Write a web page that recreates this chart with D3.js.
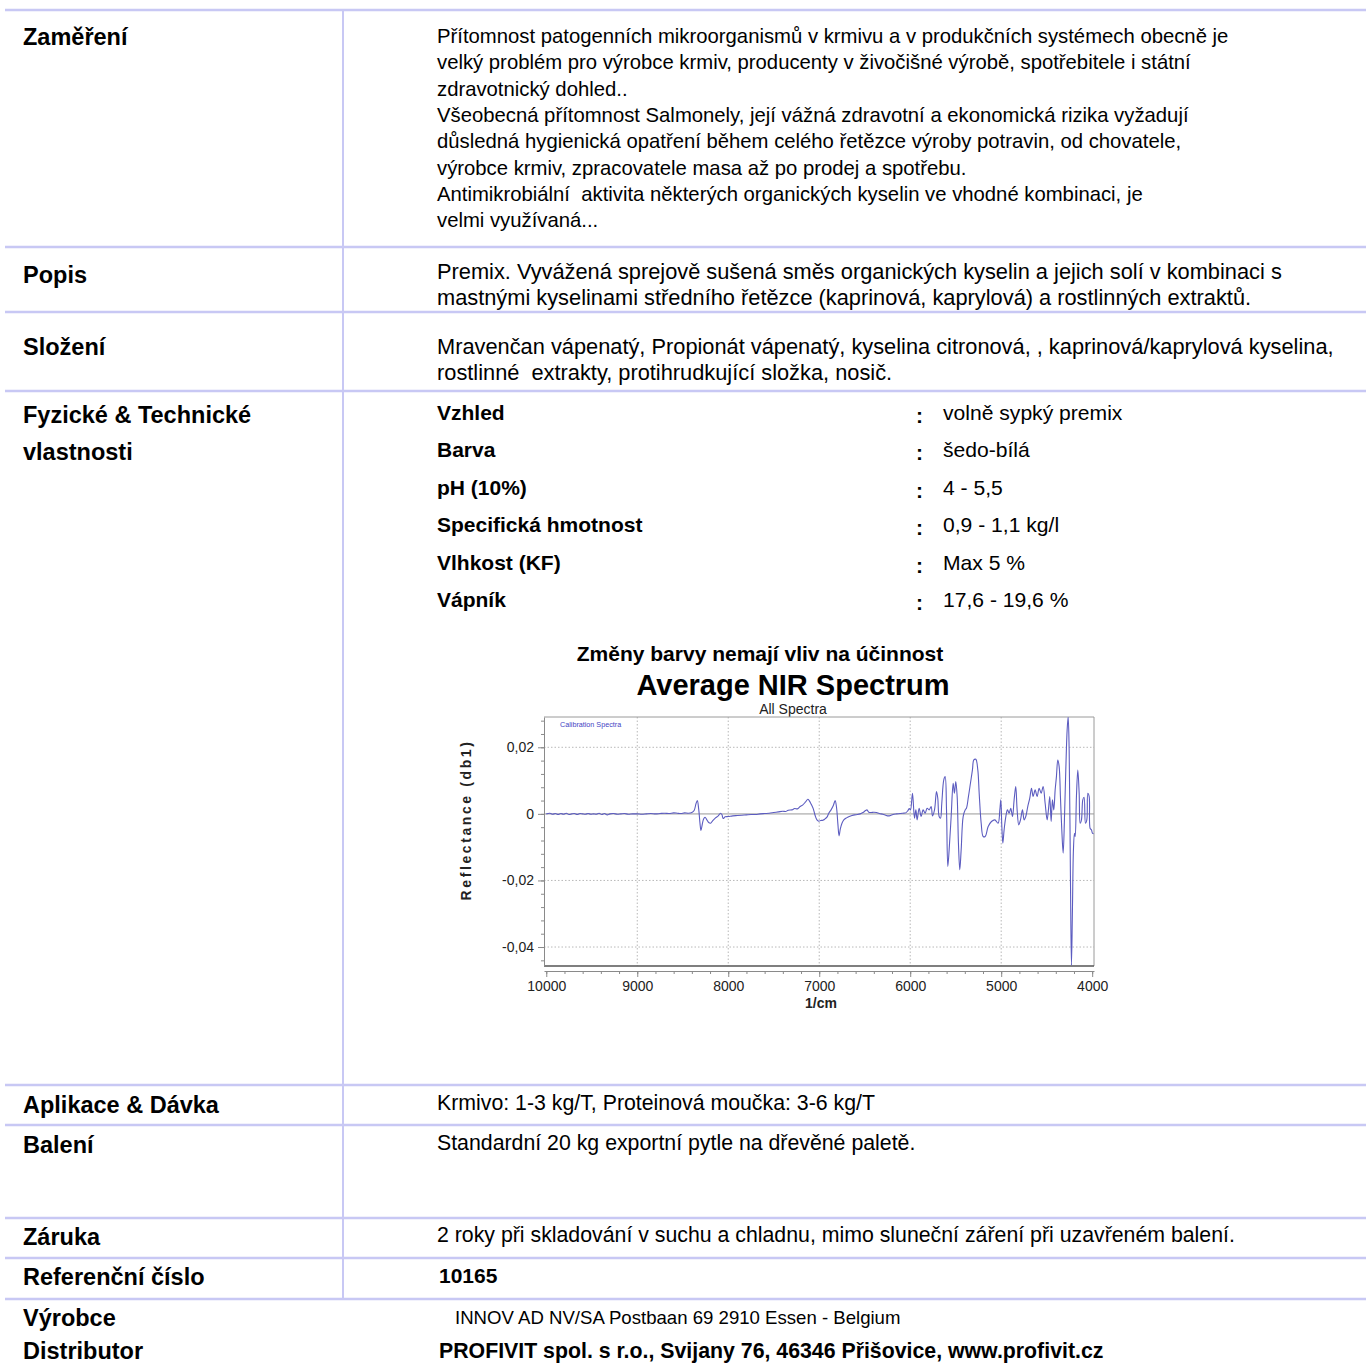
<!DOCTYPE html>
<html><head><meta charset="utf-8">
<script src="https://cdn.jsdelivr.net/npm/d3@7"></script>
<style>
body{margin:0;background:#fff}
svg{display:block}
text{font-family:"Liberation Sans", Arial, Helvetica, sans-serif; white-space:pre}
</style>
</head><body>
<svg id="page" width="1366" height="1363"></svg>
<script>
// ---------- DATA ----------
const rowLabels = ["Zaměření","Popis","Složení","Fyzické & Technické","vlastnosti",
  "Aplikace & Dávka","Balení","Záruka","Referenční číslo","Výrobce","Distributor"];
const zamereniLines = [
  "Přítomnost patogenních mikroorganismů v krmivu a v produkčních systémech obecně je",
  "velký problém pro výrobce krmiv, producenty v živočišné výrobě, spotřebitele i státní",
  "zdravotnický dohled..",
  "Všeobecná přítomnost Salmonely, její vážná zdravotní a ekonomická rizika vyžadují",
  "důsledná hygienická opatření během celého řetězce výroby potravin, od chovatele,",
  "výrobce krmiv, zpracovatele masa až po prodej a spotřebu.",
  "Antimikrobiální  aktivita některých organických kyselin ve vhodné kombinaci, je",
  "velmi využívaná..."
];
const popisLines = [
  "Premix. Vyvážená sprejově sušená směs organických kyselin a jejich solí v kombinaci s",
  "mastnými kyselinami středního řetězce (kaprinová, kaprylová) a rostlinných extraktů."
];
const slozeniLines = [
  "Mravenčan vápenatý, Propionát vápenatý, kyselina citronová, , kaprinová/kaprylová kyselina,",
  "rostlinné  extrakty, protihrudkující složka, nosič."
];
const propNames = ["Vzhled","Barva","pH (10%)","Specifická hmotnost","Vlhkost (KF)","Vápník"];
const propValues = ["volně sypký premix","šedo-bílá","4 - 5,5","0,9 - 1,1 kg/l","Max 5 %","17,6 - 19,6 %"];
const aplikaceText = "Krmivo: 1-3 kg/T, Proteinová moučka: 3-6 kg/T";
const baleniText = "Standardní 20 kg exportní pytle na dřevěné paletě.";
const zarukaText = "2 roky při skladování v suchu a chladnu, mimo sluneční záření při uzavřeném balení.";
const refNumber = "10165";
const vyrobceText = "INNOV AD NV/SA Postbaan 69 2910 Essen - Belgium";
const distributorText = "PROFIVIT spol. s r.o., Svijany 76, 46346 Přišovice, www.profivit.cz";

const chartNote = "Změny barvy nemají vliv na účinnost";
const chartTitle = "Average NIR Spectrum";
const chartSubtitle = "All Spectra";
const legendLabel = "Calibration Spectra";
const yAxisTitle = "Reflectance (db1)";
const xAxisTitle = "1/cm";
const xTicks = [10000, 9000, 8000, 7000, 6000, 5000, 4000];
const yTicks = [0.02, 0, -0.02, -0.04];

const wavenumbers = [
 10000,9960,9930,9900,9870,9840,9810,9780,9750,9720,9690,9660,9630,9600,9570,9540,9510,9480,9450,9420,
 9390,9360,9330,9300,9260,9220,9180,9140,9100,9050,9000,8950,8900,8850,8800,8750,8700,8650,8600,8560,
 8520,8480,8440,8400,8375,8355,8340,8325,8310,8300,8288,8272,8255,8235,8215,8195,8170,8140,8110,8085,
 8070,8055,8035,8000,7950,7900,7850,7800,7750,7700,7650,7600,7550,7500,7450,7400,7370,7340,7300,7270,
 7240,7210,7180,7150,7125,7110,7090,7065,7045,7025,7005,6985,6960,6940,6915,6895,6870,6845,6825,6810,
 6795,6782,6768,6750,6730,6700,6670,6640,6610,6580,6550,6520,6490,6475,6455,6430,6400,6370,6340,6300,
 6270,6240,6210,6180,6150,6110,6080,6050,6025,6010,5997,5975,5953,5938,5924,5902,5880,5858,5836,5814,
 5792,5770,5755,5733,5711,5697,5682,5667,5653,5631,5616,5601,5587,5572,5550,5528,5514,5499,5484,5470,
 5455,5440,5418,5396,5382,5360,5338,5316,5301,5279,5257,5242,5220,5198,5176,5143,5107,5070,5034,5015,
 5004,4993,4982,4968,4949,4931,4913,4895,4876,4858,4840,4825,4807,4788,4766,4748,4730,4708,4686,4667,
 4649,4627,4605,4583,4561,4539,4517,4495,4481,4466,4451,4437,4422,4407,4393,4378,4363,4349,4334,4319,
 4305,4290,4275,4264,4253,4239,4228,4217,4206,4195,4187,4173,4158,4143,4132,4118,4103,4089,4074,4059,
 4048,4033,4023,4008,3997,3985
];
const reflectance = [
 0.0000,0.0002,-0.0001,0.0001,-0.0002,0.0001,-0.0001,0.0002,-0.0002,0.0000,0.0001,-0.0002,0.0001,0.0000,-0.0001,0.0001,-0.0001,0.0000,-0.0001,0.0002,
 -0.0002,0.0001,-0.0003,0.0000,0.0001,-0.0001,0.0000,0.0001,-0.0001,0.0000,0.0000,-0.0001,0.0000,0.0001,0.0000,0.0001,0.0002,0.0001,0.0003,0.0002,
 0.0001,0.0003,0.0002,0.0004,0.0010,0.0030,0.0040,0.0015,-0.0030,-0.0050,-0.0035,-0.0016,-0.0010,-0.0018,-0.0026,-0.0028,-0.0020,-0.0012,-0.0006,0.0002,
 -0.0002,-0.0014,-0.0009,-0.0008,-0.0006,-0.0005,-0.0004,-0.0003,-0.0002,-0.0002,0.0000,0.0001,0.0002,0.0004,0.0006,0.0008,0.0007,0.0011,0.0012,0.0016,
 0.0015,0.0022,0.0027,0.0036,0.0044,0.0040,0.0030,0.0015,-0.0005,-0.0018,-0.0022,-0.0020,-0.0019,-0.0016,-0.0010,0.0002,0.0012,0.0025,0.0040,0.0020,
 -0.0030,-0.0066,-0.0045,-0.0028,-0.0018,-0.0012,-0.0008,-0.0005,-0.0003,-0.0002,0.0000,0.0004,0.0010,0.0012,0.0005,0.0004,0.0005,0.0004,0.0001,-0.0001,
 -0.0004,-0.0006,-0.0004,-0.0001,0.0000,0.0001,0.0002,0.0003,0.0010,0.0016,0.0012,0.0062,-0.0013,0.0012,-0.0018,0.0017,-0.0008,0.0012,0.0002,0.0017,
 0.0012,0.0022,-0.0006,0.0012,0.0067,0.0047,-0.0008,-0.0013,0.0032,0.0102,0.0112,0.0012,-0.0158,-0.0108,-0.0008,0.0092,0.0062,0.0097,0.0052,-0.0088,
 -0.0168,-0.0108,-0.0008,0.0012,0.0017,0.0052,0.0092,0.0132,0.0162,0.0164,0.0132,0.0062,-0.0028,-0.0068,-0.0068,-0.0038,-0.0023,-0.0018,-0.0028,0.0012,
 0.0042,-0.0038,-0.0088,-0.0048,-0.0008,0.0012,0.0002,0.0017,-0.0008,0.0042,0.0082,0.0012,-0.0033,-0.0018,0.0012,-0.0018,-0.0008,0.0022,0.0047,0.0077,
 0.0052,0.0072,0.0052,0.0077,0.0062,0.0082,0.0032,-0.0018,0.0012,0.0052,-0.0023,0.0042,0.0012,0.0072,0.0112,0.0162,0.0142,0.0052,-0.0048,-0.0118,
 -0.0018,0.0132,0.0253,0.0291,0.0192,-0.0188,-0.0455,-0.0288,-0.0108,-0.0058,-0.0068,0.0052,0.0132,0.0062,-0.0028,-0.0018,0.0042,0.0050,-0.0028,-0.0018,
 0.0062,0.0052,-0.0043,-0.0048,-0.0058,-0.0060
];

// ---------- LAYOUT ----------
const svg = d3.select("#page");
svg.append("rect").attr("width",1366).attr("height",1363).attr("fill","#fff");

const lineColor = "#c8c8f4";
const hLineY = [10, 247, 312, 391, 1085, 1125, 1218, 1258, 1299];
svg.append("g").selectAll("line").data(hLineY).join("line")
  .attr("x1",5).attr("x2",1366).attr("y1",d=>d).attr("y2",d=>d)
  .attr("stroke",lineColor).attr("stroke-width",2.5);
svg.append("line").attr("x1",343).attr("x2",343).attr("y1",10).attr("y2",1299)
  .attr("stroke",lineColor).attr("stroke-width",2);

const labelX = 23, bodyX = 437;
const labelY = [45,283,355,423,460,1113,1153,1245,1285,1326,1359];
svg.append("g").selectAll("text").data(rowLabels).join("text")
  .attr("x",labelX).attr("y",(d,i)=>labelY[i])
  .attr("font-size",23.5).attr("font-weight","bold").attr("fill","#000").text(d=>d);

function bodyLines(lines, y0, step, opts={}) {
  svg.append("g").selectAll("text").data(lines).join("text")
    .attr("x", opts.x || bodyX).attr("y",(d,i)=>y0+i*step)
    .attr("font-size", opts.size || 20.3)
    .attr("font-weight", opts.bold ? "bold" : "normal")
    .attr("fill","#000").text(d=>d);
}
bodyLines(zamereniLines, 43, 26.3);
bodyLines(popisLines, 279, 26, {size:21.8});
bodyLines(slozeniLines, 354, 26, {size:21.8});

// properties
const propY0 = 420, propStep = 37.4;
bodyLines(propNames, propY0, propStep, {bold:true, size:21});
svg.append("g").selectAll("text").data(propValues).join("text")
  .attr("x",916).attr("y",(d,i)=>propY0+3+i*propStep).attr("font-size",21).attr("font-weight","bold").text(":");
bodyLines(propValues, propY0, propStep, {x:943, size:21.1});

bodyLines([aplikaceText], 1110, 0, {size:21.3});
bodyLines([baleniText], 1150, 0, {size:21.3});
bodyLines([zarukaText], 1242, 0, {size:21.3});
bodyLines([refNumber], 1283, 0, {x:439, bold:true, size:21});
bodyLines([vyrobceText], 1324, 0, {x:455, size:18.6});
bodyLines([distributorText], 1358, 0, {x:439, bold:true, size:21.3});

// ---------- CHART ----------
const pl = 544, pr = 1094, pt = 717, pb = 966;
const x = d3.scaleLinear().domain([10025, 3980]).range([pl, pr]);
const y = d3.scaleLinear().domain([-0.0457, 0.0291]).range([pb, pt]);

svg.append("text").attr("x",760).attr("y",661).attr("text-anchor","middle")
  .attr("font-size",21).attr("font-weight","bold").text(chartNote);
svg.append("text").attr("x",793).attr("y",695).attr("text-anchor","middle")
  .attr("font-size",29).attr("font-weight","bold").text(chartTitle);
svg.append("text").attr("x",793).attr("y",714).attr("text-anchor","middle")
  .attr("font-size",14).attr("fill","#222").text(chartSubtitle);

const chart = svg.append("g");
// grid
chart.append("g").selectAll("line").data(xTicks.filter(d=>d!==10000 && d!==4000)).join("line")
  .attr("x1",d=>x(d)).attr("x2",d=>x(d)).attr("y1",pt).attr("y2",pb)
  .attr("stroke","#b8b8b8").attr("stroke-width",1).attr("stroke-dasharray","1.5,2");
chart.append("g").selectAll("line").data(yTicks.filter(d=>d!==0)).join("line")
  .attr("x1",pl).attr("x2",pr).attr("y1",d=>y(d)).attr("y2",d=>y(d))
  .attr("stroke","#b8b8b8").attr("stroke-width",1).attr("stroke-dasharray","1.5,2");
chart.append("line").attr("x1",pl).attr("x2",pr).attr("y1",y(0)).attr("y2",y(0))
  .attr("stroke","#c4c4c4").attr("stroke-width",1.6);

// frame
chart.append("line").attr("x1",pl).attr("x2",pr).attr("y1",pt).attr("y2",pt).attr("stroke","#9a9a9a").attr("stroke-width",1);
chart.append("line").attr("x1",pr).attr("x2",pr).attr("y1",pt).attr("y2",pb).attr("stroke","#9a9a9a").attr("stroke-width",1);
chart.append("line").attr("x1",pl).attr("x2",pr).attr("y1",pb).attr("y2",pb).attr("stroke","#555").attr("stroke-width",1.5);

// spectrum
svg.append("clipPath").attr("id","plotclip").append("rect")
  .attr("x",pl).attr("y",pt).attr("width",pr-pl).attr("height",pb-pt);
const pts = wavenumbers.map((w,i)=>[w, reflectance[i]]);
chart.append("path").datum(pts)
  .attr("clip-path","url(#plotclip)")
  .attr("d", d3.line().x(d=>x(d[0])).y(d=>y(d[1])).curve(d3.curveCatmullRom.alpha(0.5)))
  .attr("fill","none").attr("stroke","#5c5cc0").attr("stroke-width",1.1);

// legend label
chart.append("text").attr("x",560).attr("y",727).attr("font-size",7.2).attr("fill","#4444c4").text(legendLabel);

// axes
const fmtY = d => d===0 ? "0" : (d<0?"-":"") + Math.abs(d).toFixed(2).replace(".",",");
const xMinor = d3.range(10000, 3999, -200);
const yMinor = d3.range(-0.044, 0.0285, 0.004);

const xAxisG = chart.append("g").attr("transform",`translate(0,${pb+5})`)
  .call(d3.axisBottom(x).tickValues(xTicks).tickSize(6).tickSizeOuter(0).tickFormat(d3.format("d")));
chart.append("g").attr("transform",`translate(0,${pb+5})`)
  .call(d3.axisBottom(x).tickValues(xMinor).tickSize(3).tickSizeOuter(0).tickFormat(""))
  .select(".domain").remove();
const yAxisG = chart.append("g").attr("transform",`translate(${pl},0)`)
  .call(d3.axisLeft(y).tickValues(yTicks).tickSize(6).tickSizeOuter(0).tickFormat(fmtY));
chart.append("g").attr("transform",`translate(${pl},0)`)
  .call(d3.axisLeft(y).tickValues(yMinor).tickSize(3).tickSizeOuter(0).tickFormat(""))
  .select(".domain").remove();
chart.selectAll(".domain").attr("stroke","#8a8a8a");
chart.selectAll(".tick line").attr("stroke","#8a8a8a");
xAxisG.selectAll(".tick text").attr("font-size",14).attr("fill","#222")
  .attr("font-family","Liberation Sans, Arial, sans-serif").attr("dy","0.75em");
yAxisG.selectAll(".tick text").attr("font-size",14).attr("fill","#222")
  .attr("font-family","Liberation Sans, Arial, sans-serif").attr("dx","-1");

chart.append("text").attr("x",821).attr("y",1008).attr("text-anchor","middle")
  .attr("font-size",14).attr("font-weight","bold").attr("fill","#222").text(xAxisTitle);
chart.append("text").attr("transform",`translate(471,820) rotate(-90)`)
  .attr("text-anchor","middle").attr("font-size",14).attr("font-weight","bold")
  .attr("letter-spacing","2.6px").attr("fill","#222").text(yAxisTitle);
</script>
</body></html>
